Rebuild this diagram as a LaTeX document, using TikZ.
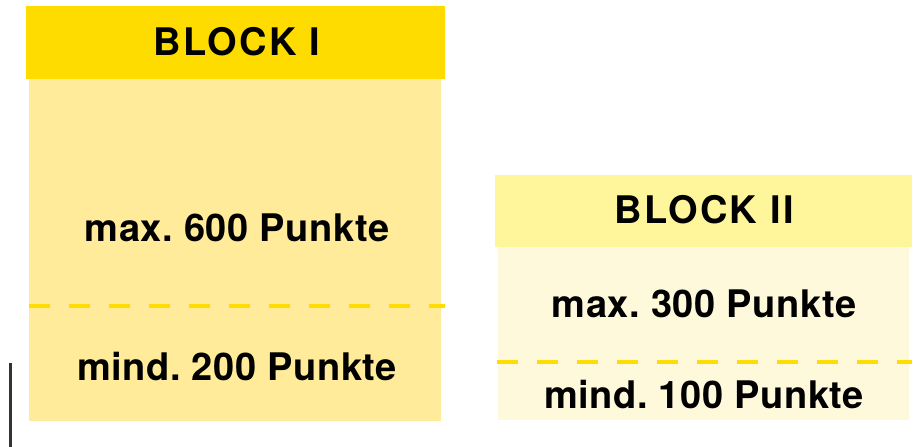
\documentclass[tikz,border=0pt]{standalone}
\usepackage{fontspec}
\setmainfont{TeX Gyre Heros}
\frenchspacing
\definecolor{hdrone}{HTML}{FFDC00}
\definecolor{bodyone}{HTML}{FFEB99}
\definecolor{hdrtwo}{HTML}{FFF59A}
\definecolor{bodytwo}{HTML}{FFF9DC}
\definecolor{dashy}{HTML}{FFDD00}
\definecolor{barc}{HTML}{333333}
\tikzset{
  panel/.style={anchor=north west, inner sep=0pt, outer sep=0pt, draw=none},
  lbl/.style={anchor=base, inner sep=0pt, font=\bfseries\fontsize{38}{40}\selectfont\addfontfeature{LetterSpace=1.5}\frenchspacing},
  ttl/.style={anchor=base, inner sep=0pt, font=\bfseries\fontsize{38}{40}\selectfont\addfontfeature{LetterSpace=6}},
  divider/.style={draw=dashy, line width=4pt, dash pattern=on 21pt off 19pt}
}
\begin{document}
\begin{tikzpicture}[x=1pt,y=-1pt]
\useasboundingbox (0,0) rectangle (922,447);
% Block I
\node[panel, fill=bodyone, minimum width=412pt, minimum height=342pt] (b1) at (29,79) {};
\node[panel, fill=hdrone, minimum width=419pt, minimum height=73pt] (h1) at (26,6) {};
\node[ttl] (t1) at (237,55) {BLOCK I};
\node[lbl] (m1) at (237,241) {max. 600 Punkte};
\node[lbl] (n1) at (237,380) {mind. 200 Punkte};
\coordinate (d1a) at (29,306);
\coordinate (d1b) at (445,306);
\draw[divider] (d1a) -- (d1b);
% Block II
\node[panel, fill=bodytwo, minimum width=411pt, minimum height=173pt] (b2) at (498,247) {};
\node[panel, fill=hdrtwo, minimum width=417pt, minimum height=72pt] (h2) at (495,175) {};
\node[ttl] (t2) at (704,223) {BLOCK II};
\node[lbl] (m2) at (704,317) {max. 300 Punkte};
\node[lbl] (n2) at (704,408) {mind. 100 Punkte};
\coordinate (d2a) at (497,362);
\coordinate (d2b) at (912,362);
\draw[divider] (d2a) -- (d2b);
% stray bar
\coordinate (va) at (10,363);
\coordinate (vb) at (10,447);
\draw[barc, line width=3pt] (va) -- (vb);
\end{tikzpicture}
\end{document}
